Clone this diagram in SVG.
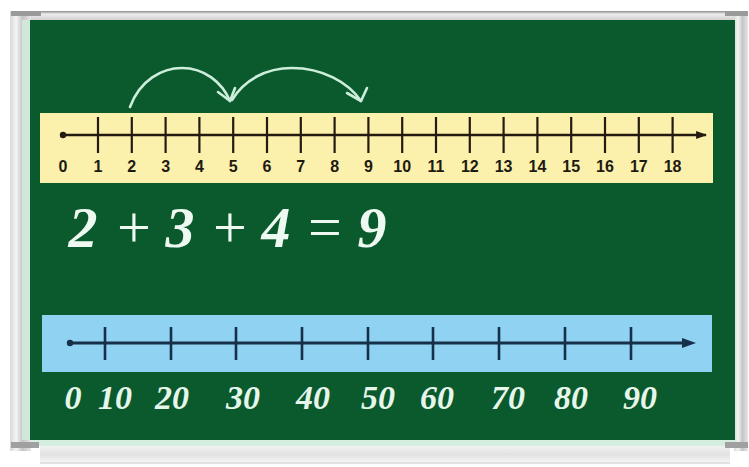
<svg xmlns="http://www.w3.org/2000/svg" width="749" height="467" viewBox="0 0 749 467">
  <defs>
    <linearGradient id="frameV" x1="0" y1="0" x2="1" y2="0">
      <stop offset="0" stop-color="#d8d8d8"/>
      <stop offset="0.3" stop-color="#f4f4f4"/>
      <stop offset="0.6" stop-color="#c4c4c4"/>
      <stop offset="1" stop-color="#e6e6e6"/>
    </linearGradient>
    <linearGradient id="frameH" x1="0" y1="0" x2="0" y2="1">
      <stop offset="0" stop-color="#8a8a8a"/>
      <stop offset="0.3" stop-color="#ececec"/>
      <stop offset="1" stop-color="#cdcdcd"/>
    </linearGradient>
    <linearGradient id="tray" x1="0" y1="0" x2="0" y2="1">
      <stop offset="0" stop-color="#f2f2f2"/>
      <stop offset="0.5" stop-color="#e2e2e2"/>
      <stop offset="1" stop-color="#f7f7f7"/>
    </linearGradient>
    <marker id="ah1" viewBox="0 0 10 10" refX="9" refY="5" markerWidth="11" markerHeight="8" orient="auto" markerUnits="userSpaceOnUse" preserveAspectRatio="none">
      <path d="M0,0 L10,5 L0,10 Z" fill="#241a10"/>
    </marker>
  </defs>
  <style>
    .tick1 { stroke: #241a10; stroke-width: 2.2; }
    .tick2 { stroke: #16304a; stroke-width: 2.6; }
    .lbl1 { font-family: "Liberation Sans", Arial, sans-serif; font-weight: bold; font-size: 16px; fill: #1e1a12; text-anchor: middle; }
    .lbl2 { font-family: "Liberation Serif", "Times New Roman", serif; font-style: italic; font-weight: bold; font-size: 34px; fill: #e6f6ea; text-anchor: middle; }
    .eq { font-family: "Liberation Serif", "Times New Roman", serif; font-style: italic; font-weight: bold; font-size: 58px; fill: #eef9f1; text-anchor: middle; }
    .op { font-weight: normal; font-style: normal; font-size: 60px; }
    .arc { fill: none; stroke: #cdeedb; stroke-width: 2.6; stroke-linecap: round; stroke-linejoin: round; }
  </style>

  <rect x="0" y="0" width="749" height="467" fill="#ffffff"/>

  <g id="board">
    <!-- frame -->
    <rect x="11" y="11" width="737" height="10" fill="url(#frameH)"/>
    <rect x="10" y="11" width="21" height="440" fill="url(#frameV)"/>
    <rect x="734" y="11" width="14" height="440" fill="url(#frameV)"/>
    <rect x="11" y="11" width="30" height="5" fill="#9a9a9a"/>
    <rect x="725" y="11" width="23" height="5" fill="#9a9a9a"/>
    <rect x="22" y="20" width="8" height="420" fill="#cfe8da"/>
    <!-- green board -->
    <rect x="30" y="20" width="705" height="420" fill="#0b5a2e"/>
    <!-- bottom ledge and tray -->
    <rect x="30" y="440" width="705" height="6" fill="#d4efe0"/>
    <rect x="40" y="446" width="690" height="17" fill="url(#tray)"/>
    <line x1="40" y1="463" x2="730" y2="463" stroke="#c8c8c8" stroke-width="1"/>
    <rect x="11" y="442" width="28" height="6" fill="#a0a0a0"/>
    <rect x="725" y="442" width="23" height="6" fill="#a0a0a0"/>
  </g>

  <g id="top-number-line">
    <rect x="40" y="113" width="673" height="70" fill="#fbf1ad"/>
    <line x1="63" y1="135" x2="706" y2="135" stroke="#241a10" stroke-width="2.4" marker-end="url(#ah1)"/>
    <circle cx="63" cy="135" r="3.2" fill="#241a10"/>
    <g class="ticks">
      <line class="tick1" x1="98" y1="117" x2="98" y2="153"/>
      <line class="tick1" x1="131.8" y1="117" x2="131.8" y2="153"/>
      <line class="tick1" x1="165.6" y1="117" x2="165.6" y2="153"/>
      <line class="tick1" x1="199.4" y1="117" x2="199.4" y2="153"/>
      <line class="tick1" x1="233.2" y1="117" x2="233.2" y2="153"/>
      <line class="tick1" x1="267" y1="117" x2="267" y2="153"/>
      <line class="tick1" x1="300.8" y1="117" x2="300.8" y2="153"/>
      <line class="tick1" x1="334.6" y1="117" x2="334.6" y2="153"/>
      <line class="tick1" x1="368.4" y1="117" x2="368.4" y2="153"/>
      <line class="tick1" x1="402.2" y1="117" x2="402.2" y2="153"/>
      <line class="tick1" x1="436" y1="117" x2="436" y2="153"/>
      <line class="tick1" x1="469.8" y1="117" x2="469.8" y2="153"/>
      <line class="tick1" x1="503.6" y1="117" x2="503.6" y2="153"/>
      <line class="tick1" x1="537.4" y1="117" x2="537.4" y2="153"/>
      <line class="tick1" x1="571.2" y1="117" x2="571.2" y2="153"/>
      <line class="tick1" x1="605" y1="117" x2="605" y2="153"/>
      <line class="tick1" x1="638.8" y1="117" x2="638.8" y2="153"/>
      <line class="tick1" x1="672.6" y1="117" x2="672.6" y2="153"/>
    </g>
    <g class="labels">
      <text class="lbl1" x="63" y="172">0</text>
      <text class="lbl1" x="98" y="172">1</text>
      <text class="lbl1" x="131.8" y="172">2</text>
      <text class="lbl1" x="165.6" y="172">3</text>
      <text class="lbl1" x="199.4" y="172">4</text>
      <text class="lbl1" x="233.2" y="172">5</text>
      <text class="lbl1" x="267" y="172">6</text>
      <text class="lbl1" x="300.8" y="172">7</text>
      <text class="lbl1" x="334.6" y="172">8</text>
      <text class="lbl1" x="368.4" y="172">9</text>
      <text class="lbl1" x="402.2" y="172">10</text>
      <text class="lbl1" x="436" y="172">11</text>
      <text class="lbl1" x="469.8" y="172">12</text>
      <text class="lbl1" x="503.6" y="172">13</text>
      <text class="lbl1" x="537.4" y="172">14</text>
      <text class="lbl1" x="571.2" y="172">15</text>
      <text class="lbl1" x="605" y="172">16</text>
      <text class="lbl1" x="638.8" y="172">17</text>
      <text class="lbl1" x="672.6" y="172">18</text>
    </g>
  </g>

  <g id="connectors">
    <path class="arc" d="M130,107 C140,80 162,68 182,68 C204,68 222,82 230,101"/>
    <path class="arc" d="M218,92 L230,101 L235,88"/>
    <path class="arc" d="M232,100 C244,80 266,68 292,68 C322,68 348,82 361,101"/>
    <path class="arc" d="M347,93 L361,101 L367,88"/>
  </g>

  <g id="equation">
    <text class="eq" x="83" y="247">2</text>
    <text class="eq op" x="134" y="247">+</text>
    <text class="eq" x="180" y="247">3</text>
    <text class="eq op" x="230" y="247">+</text>
    <text class="eq" x="276" y="247">4</text>
    <text class="eq op" x="325" y="247">=</text>
    <text class="eq" x="372" y="247">9</text>
  </g>

  <g id="bottom-number-line">
    <rect x="42" y="315" width="670" height="57" fill="#8fd2f2"/>
    <line x1="70" y1="343" x2="690" y2="343" stroke="#16304a" stroke-width="2.8"/>
    <path d="M682,338 L696,343 L682,348 Z" fill="#16304a"/>
    <circle cx="70" cy="343" r="3.2" fill="#16304a"/>
    <g class="ticks">
      <line class="tick2" x1="105" y1="327" x2="105" y2="360"/>
      <line class="tick2" x1="171" y1="327" x2="171" y2="360"/>
      <line class="tick2" x1="236" y1="327" x2="236" y2="360"/>
      <line class="tick2" x1="302" y1="327" x2="302" y2="360"/>
      <line class="tick2" x1="368" y1="327" x2="368" y2="360"/>
      <line class="tick2" x1="433" y1="327" x2="433" y2="360"/>
      <line class="tick2" x1="499" y1="327" x2="499" y2="360"/>
      <line class="tick2" x1="565" y1="327" x2="565" y2="360"/>
      <line class="tick2" x1="631" y1="327" x2="631" y2="360"/>
    </g>
    <g class="labels">
      <text class="lbl2" x="73" y="409">0</text>
      <text class="lbl2" x="115" y="409">10</text>
      <text class="lbl2" x="172" y="409">20</text>
      <text class="lbl2" x="243" y="409">30</text>
      <text class="lbl2" x="313" y="409">40</text>
      <text class="lbl2" x="378" y="409">50</text>
      <text class="lbl2" x="437" y="409">60</text>
      <text class="lbl2" x="508" y="409">70</text>
      <text class="lbl2" x="571" y="409">80</text>
      <text class="lbl2" x="640" y="409">90</text>
    </g>
  </g>
</svg>
